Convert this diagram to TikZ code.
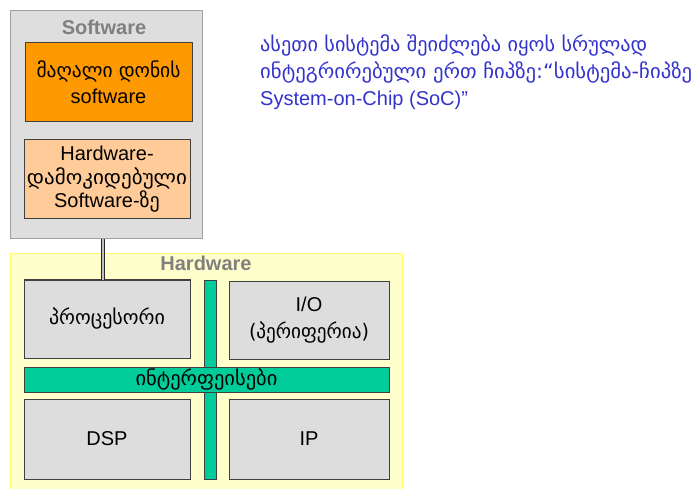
\documentclass[tikz,border=0pt]{standalone}
\usepackage{fontspec}
\usepackage{graphicx}
\setmainfont{Liberation Sans}
\newfontfamily\geo{DejaVu Sans}[Scale=1.0]
\newcommand\gw[2]{\resizebox{#1}{\height}{\geo #2}}
\definecolor{swfill}{HTML}{DEDEDE}
\definecolor{swborder}{HTML}{A0A0A0}
\definecolor{titlegray}{HTML}{808080}
\definecolor{orange1}{HTML}{FF9900}
\definecolor{orange2}{HTML}{FFCC99}
\definecolor{hwfill}{HTML}{FFFFCC}
\definecolor{hwborder}{HTML}{FFFF66}
\definecolor{boxgray}{HTML}{DDDDDD}
\definecolor{busgreen}{HTML}{00CC99}
\definecolor{textblue}{HTML}{3333CC}
\begin{document}
\begin{tikzpicture}[x=1pt,y=-1pt,
  txt/.style={font=\fontsize{20}{23}\selectfont, align=center, inner sep=0pt},
  title/.style={font=\fontsize{20}{23}\selectfont\bfseries, text=titlegray, inner sep=0pt},
  container/.style={draw=#1, line width=1pt, inner sep=0pt},
  block/.style={txt, draw=black!75, line width=1pt},
  bus/.style={draw=black!75, fill=busgreen, line width=0.8pt, inner sep=0pt},
  link/.style={draw=black!85, line width=1.1pt, double=black!25, double distance=1.4pt}
]
\useasboundingbox (0,0) rectangle (699,489);
% containers
\node[container=swborder, fill=swfill, minimum width=192pt, minimum height=228pt] (sw) at (106.5,125) {};
\node[container=hwborder, fill=hwfill, minimum width=392pt, minimum height=238pt] (hw) at (206,373) {};
\node[title] (swt) at (104,27) {Software};
\node[title] (hwt) at (206,263) {Hardware};
% software blocks
\node[block, fill=orange1, minimum width=167pt, minimum height=79pt] (hl) at (108.5,82.5)
  {\gw{144pt}{მაღალი დონის}\\[3pt]software};
\node[block, fill=orange2, minimum width=166pt, minimum height=79pt] (hd) at (107,179.5)
  {Hardware-\\[1pt]\gw{160pt}{დამოკიდებული}\\[0pt]Software-{\geo ზე}};
% hardware blocks
\node[bus, minimum width=12pt, minimum height=199pt] (vb) at (210,379.5) {};
\node[block, fill=boxgray, minimum width=166pt, minimum height=78pt] (cpu) at (107,319) {\gw{116pt}{პროცესორი}};
\node[block, fill=boxgray, minimum width=160pt, minimum height=78pt] (io) at (309,320)
  {I/O\\[4pt]\gw{120pt}{(პერიფერია)}};
\node[bus, txt, minimum width=365pt, minimum height=25pt] (hb) at (206.5,379.5) {\gw{142pt}{ინტერფეისები}};
\node[block, fill=boxgray, minimum width=166pt, minimum height=80pt] (dsp) at (107,439) {DSP};
\node[block, fill=boxgray, minimum width=160pt, minimum height=80pt] (ip) at (309,439) {IP};
% connector
\draw[link] (sw.south -| 103,0) -- (cpu.north -| 103,0);
% side text
\node[anchor=north west, align=left, text=textblue, inner sep=0pt,
  font=\fontsize{20}{27}\selectfont] (note) at (260,35)
  {\gw{387pt}{ასეთი სისტემა შეიძლება იყოს სრულად}\\
   \gw{432pt}{ინტეგრირებული ერთ ჩიპზე:“სისტემა-ჩიპზე}\\
   System-on-Chip (SoC)”};
\end{tikzpicture}
\end{document}
